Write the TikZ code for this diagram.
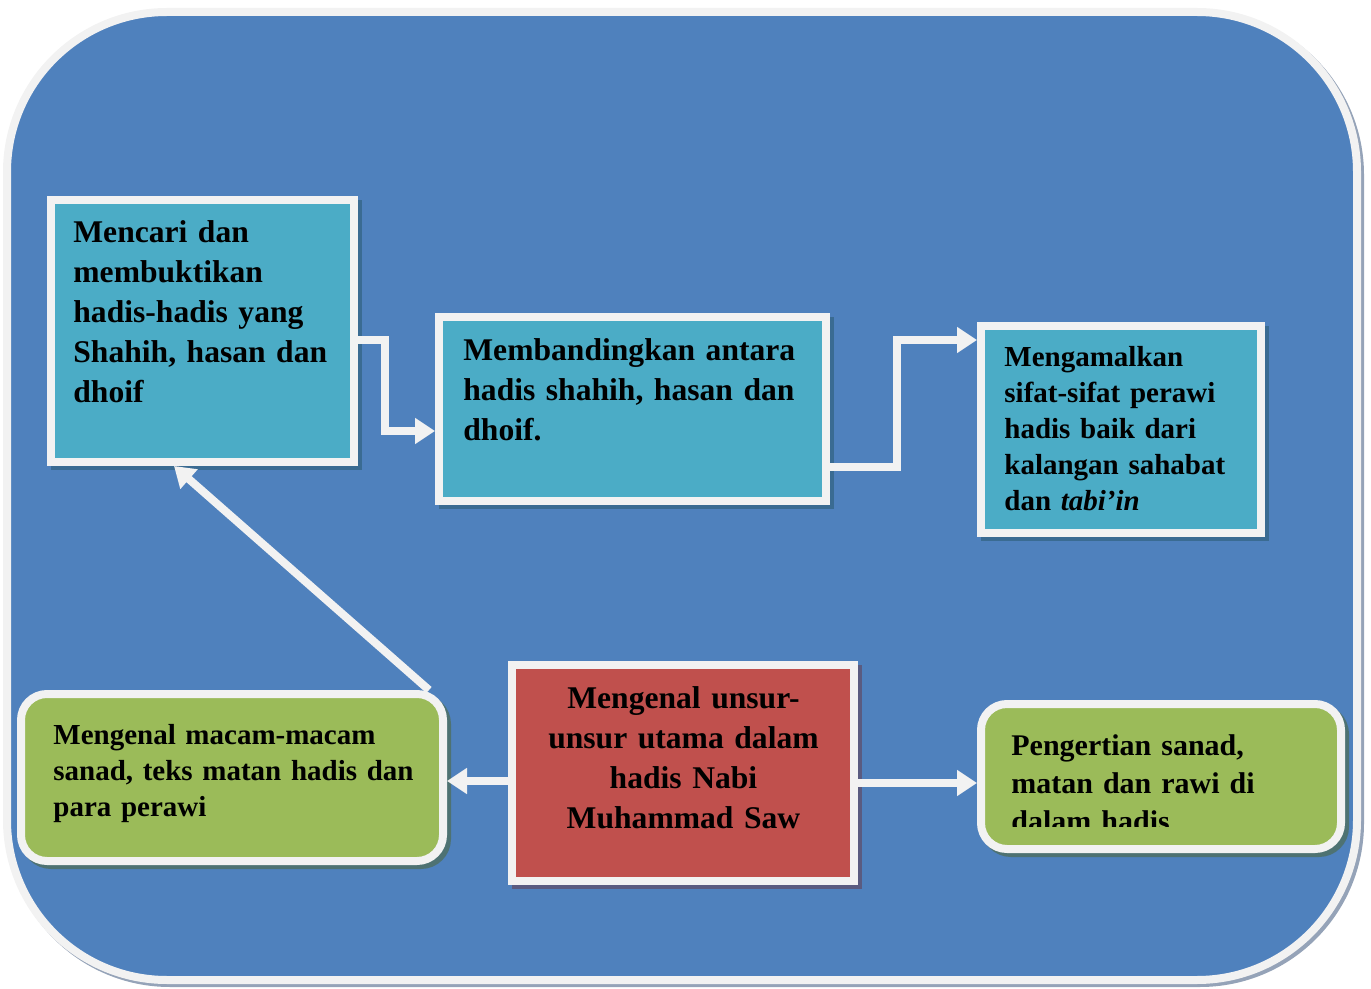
\documentclass[tikz,border=0pt]{standalone}
\usepackage{fontspec}
\setmainfont{Liberation Serif}
\usetikzlibrary{arrows.meta,shadows}
\definecolor{bgblue}{HTML}{4F81BD}
\definecolor{frame}{HTML}{F2F2F2}
\definecolor{teal}{HTML}{4BACC6}
\definecolor{redbox}{HTML}{C0504D}
\definecolor{greenbox}{HTML}{9BBB59}
\definecolor{tealsh}{HTML}{3A6B92}
\definecolor{redsh}{HTML}{5A5B80}
\definecolor{greensh}{HTML}{4E7272}
\definecolor{framesh}{HTML}{95A3B8}
\begin{document}
\begin{tikzpicture}[x=0.5pt,y=-0.5pt,
  basebox/.style={draw=frame, line width=4pt, inner sep=0pt},
  tealbox/.style={basebox, fill=teal,
    drop shadow={shadow xshift=2pt,shadow yshift=-2pt,fill=tealsh,draw=tealsh,line width=4pt,opacity=1}},
  redboxst/.style={basebox, fill=redbox,
    drop shadow={shadow xshift=2pt,shadow yshift=-2pt,fill=redsh,draw=redsh,line width=4pt,opacity=1}},
  greenboxst/.style={basebox, fill=greenbox, rounded corners=13pt,
    drop shadow={shadow xshift=2pt,shadow yshift=-2pt,fill=greensh,draw=greensh,line width=4pt,opacity=1}},
  bigtxt/.style={inner sep=0pt, font=\fontsize{15.8pt}{20pt}\selectfont\bfseries, align=left, anchor=base west},
  arr/.style={draw=frame, line width=4pt, -{Triangle[length=10pt,width=12.5pt]}}
]
\useasboundingbox (0,0) rectangle (1371,989);
% outer frame
\path[draw=frame, fill=bgblue, line width=4pt, rounded corners=80pt,
  drop shadow={shadow xshift=1.5pt,shadow yshift=-1.5pt,fill=framesh,draw=framesh,line width=4pt,opacity=1}]
  (7,12) rectangle (1357,980);

% boxes
\node[tealbox, minimum width=151.5pt, minimum height=131pt] (boxA) at (202.5,331) {};
\node[tealbox, minimum width=193.5pt, minimum height=92pt] (boxB) at (632.5,409) {};
\node[tealbox, minimum width=140pt, minimum height=103.5pt] (boxC) at (1121,429.5) {};
\node[redboxst, minimum width=171pt, minimum height=108pt] (boxD) at (683,773) {};
\node[greenboxst, minimum width=211pt, minimum height=83.5pt] (boxE) at (232,777.5) {};
\node[greenboxst, minimum width=180pt, minimum height=72.5pt] (boxF) at (1161,776.5) {};

% texts
\node[bigtxt, text width=150pt] (tA) at (73,243)
  {Mencari dan\\membuktikan\\hadis-hadis yang\\Shahih, hasan dan\\dhoif};
\node[bigtxt, text width=180pt] (tB) at (463,361)
  {Membandingkan antara\\hadis shahih, hasan dan\\dhoif.};
\node[bigtxt, text width=125pt, font=\fontsize{14.5pt}{18pt}\selectfont\bfseries] (tC) at (1004,367)
  {Mengamalkan\\sifat-sifat perawi\\hadis baik dari\\kalangan sahabat\\dan \textit{tabi’in}};
\node[bigtxt, text width=170pt, align=center, anchor=base] (tD) at (683.5,708)
  {Mengenal unsur-\\unsur utama dalam\\hadis Nabi\\Muhammad Saw};
\node[bigtxt, text width=190pt, font=\fontsize{14.5pt}{18pt}\selectfont\bfseries] (tE) at (53,744)
  {Mengenal macam-macam\\sanad, teks matan hadis dan\\para perawi};
\begin{scope}
  \clip (985,708) rectangle (1337,826);
  \node[bigtxt, text width=150pt, font=\fontsize{15pt}{19pt}\selectfont\bfseries] (tF) at (1011,755)
    {Pengertian sanad,\\matan dan rawi di\\dalam hadis};
\end{scope}

% connectors
\draw[arr] (boxA.east |- 0,340) -- (385,340) |- (boxB.west |- 0,431);
\draw[arr] (boxB.east |- 0,467) -| (897,340) -- (boxC.west |- 0,340);
\draw[arr] (boxE.north -| 429,0) -- (boxA.south -| 174,0);
\draw[arr] (boxD.west |- 0,781) -- (boxE.east |- 0,781);
\draw[arr] (boxD.east |- 0,783) -- (boxF.west |- 0,783);
\end{tikzpicture}
\end{document}
